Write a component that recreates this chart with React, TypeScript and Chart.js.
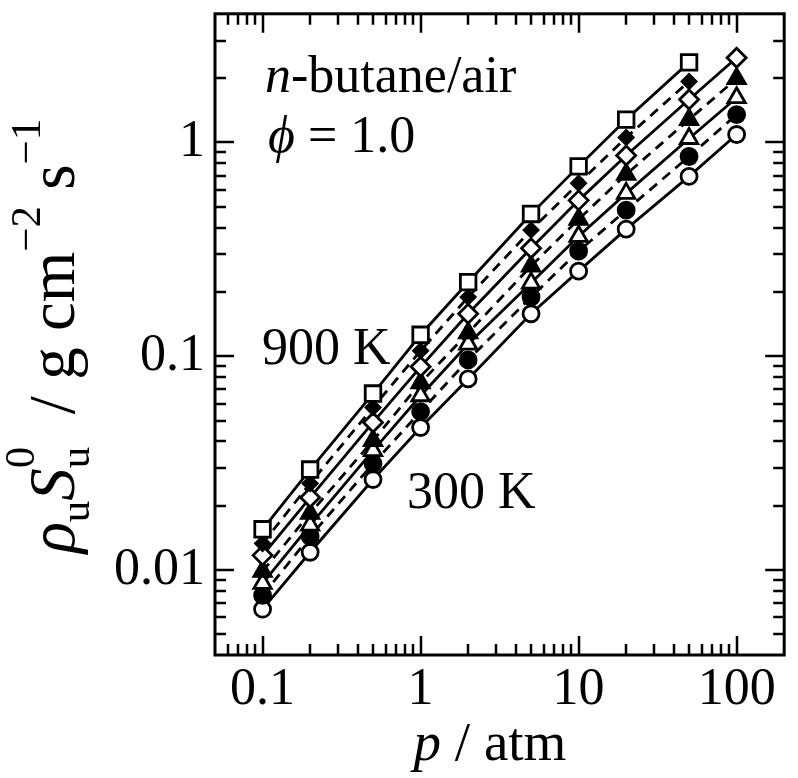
import React, { useEffect, useRef } from "react";
import { Chart, registerables } from "chart.js";

Chart.register(...registerables);

// ---- data ----
const PRESSURES = [0.1, 0.2, 0.5, 1, 2, 5, 10, 20, 50, 100];

const T900 = [0.0155, 0.0295, 0.0669, 0.126, 0.222, 0.463, 0.773, 1.28, 2.37];
const T800 = [0.0133, 0.0254, 0.0576, 0.106, 0.189, 0.389, 0.644, 1.055, 1.93];
const T700 = [0.0117, 0.0218, 0.049, 0.0892, 0.158, 0.32, 0.536, 0.87, 1.59, 2.49];
const T600 = [0.00985, 0.0184, 0.0403, 0.075, 0.1285, 0.264, 0.437, 0.709, 1.28, 1.99];
const T500 = [0.00866, 0.0162, 0.0362, 0.0653, 0.114, 0.22, 0.364, 0.578, 1.044, 1.62];
const T400 = [0.00761, 0.01435, 0.0314, 0.0551, 0.0961, 0.189, 0.31, 0.482, 0.86, 1.35];
const T300 = [0.00655, 0.0121, 0.0265, 0.0464, 0.0783, 0.158, 0.25, 0.393, 0.694, 1.09];

const X_TICKS = [0.1, 1, 10, 100];
const X_TICK_LABELS = ["0.1", "1", "10", "100"];
const Y_TICKS = [0.01, 0.1, 1];
const Y_TICK_LABELS = ["0.01", "0.1", "1"];

const X_MIN = 0.05;
const X_MAX = 200;
const Y_MIN = 0.004;
const Y_MAX = 4;

const FONT = "'Liberation Serif', 'Times New Roman', 'DejaVu Serif', serif";

type Series = {
  label: string;
  values: number[];
  style: string;
  filled: boolean;
  dashed: boolean;
  radius: number;
};

const SERIES: Series[] = [
  { label: "900 K", values: T900, style: "rect", filled: false, dashed: false, radius: 11 },
  { label: "800 K", values: T800, style: "rectRot", filled: true, dashed: true, radius: 7 },
  { label: "700 K", values: T700, style: "rectRot", filled: false, dashed: false, radius: 9.5 },
  { label: "600 K", values: T600, style: "triangle", filled: true, dashed: true, radius: 10 },
  { label: "500 K", values: T500, style: "triangle", filled: false, dashed: false, radius: 10 },
  { label: "400 K", values: T400, style: "circle", filled: true, dashed: true, radius: 8 },
  { label: "300 K", values: T300, style: "circle", filled: false, dashed: false, radius: 8 },
];

type Run = { t: string; size: number; italic?: boolean; dy?: number; stack?: Run };

function fontOf(r: Run) {
  return `${r.italic ? "italic " : ""}${r.size}px ${FONT}`;
}

function runWidth(ctx: CanvasRenderingContext2D, r: Run) {
  ctx.font = fontOf(r);
  let w = ctx.measureText(r.t).width;
  if (r.stack) {
    ctx.font = fontOf(r.stack);
    w = Math.max(w, ctx.measureText(r.stack.t).width);
  }
  return w;
}

function drawRuns(ctx: CanvasRenderingContext2D, runs: Run[], x: number, y: number, align: "left" | "center") {
  const widths = runs.map((r) => runWidth(ctx, r));
  const total = widths.reduce((a, b) => a + b, 0);
  let cx = align === "center" ? x - total / 2 : x;
  ctx.textAlign = "left";
  ctx.textBaseline = "alphabetic";
  runs.forEach((r, i) => {
    ctx.font = fontOf(r);
    ctx.fillText(r.t, cx, y + (r.dy || 0));
    if (r.stack) {
      ctx.font = fontOf(r.stack);
      ctx.fillText(r.stack.t, cx, y + (r.stack.dy || 0));
    }
    cx += widths[i];
  });
}

function logTicks(min: number, max: number) {
  const out: { v: number; major: boolean }[] = [];
  const e0 = Math.floor(Math.log10(min));
  const e1 = Math.ceil(Math.log10(max));
  for (let e = e0; e <= e1; e++) {
    for (let m = 1; m <= 9; m++) {
      const v = m * Math.pow(10, e);
      if (v > min * 1.001 && v < max / 1.001) out.push({ v, major: m === 1 });
    }
  }
  return out;
}

const framePlugin = {
  id: "framePlugin",
  afterDraw(chart: any) {
    const { ctx, chartArea: a, scales } = chart;
    const xs = scales.x;
    const ys = scales.y;
    ctx.save();
    ctx.strokeStyle = "#000";
    ctx.lineWidth = 2.5;
    ctx.setLineDash([]);
    const MAJ = 19;
    const MIN = 11;
    ctx.beginPath();
    for (const t of logTicks(X_MIN, X_MAX)) {
      const px = Math.round(xs.getPixelForValue(t.v));
      const len = t.major ? MAJ : MIN;
      ctx.moveTo(px, a.bottom);
      ctx.lineTo(px, a.bottom - len);
      ctx.moveTo(px, a.top);
      ctx.lineTo(px, a.top + len);
    }
    for (const t of logTicks(Y_MIN, Y_MAX)) {
      const py = Math.round(ys.getPixelForValue(t.v));
      const len = t.major ? MAJ : MIN;
      ctx.moveTo(a.left, py);
      ctx.lineTo(a.left + len, py);
      ctx.moveTo(a.right, py);
      ctx.lineTo(a.right - len, py);
    }
    ctx.stroke();
    ctx.lineWidth = 3;
    ctx.strokeRect(a.left, a.top, a.right - a.left, a.bottom - a.top);

    ctx.fillStyle = "#000";
    // annotations
    drawRuns(ctx, [{ t: "n", size: 52, italic: true }, { t: "-butane/air", size: 52 }], 265, 92, "left");
    drawRuns(ctx, [{ t: "\u03D5", size: 52, italic: true }, { t: " = 1.0", size: 52 }], 268, 152, "left");
    drawRuns(ctx, [{ t: "900 K", size: 52 }], 262, 364, "left");
    drawRuns(ctx, [{ t: "300 K", size: 52 }], 407, 508, "left");

    // x title
    drawRuns(ctx, [{ t: "p", size: 55, italic: true }, { t: " / atm", size: 55 }], 490, 760, "center");

    // y title (rotated)
    ctx.save();
    ctx.translate(74, 336);
    ctx.rotate(-Math.PI / 2);
    drawRuns(
      ctx,
      [
        { t: "\u03C1", size: 65, italic: true },
        { t: "u", size: 43, dy: 15 },
        { t: "S", size: 65, italic: true },
        { t: "u", size: 43, dy: 15, stack: { t: "0", size: 43, dy: -40 } },
        { t: "  / g cm", size: 65 },
        { t: "\u22122", size: 43, dy: -34 },
        { t: " s", size: 65 },
        { t: "\u22121", size: 43, dy: -34 },
      ],
      0,
      0,
      "center"
    );
    ctx.restore();
    ctx.restore();
  },
};

export default function App() {
  const ref = useRef<HTMLCanvasElement | null>(null);

  useEffect(() => {
    const canvas = ref.current;
    if (!canvas) return;
    const datasets = SERIES.map((s) => ({
      label: s.label,
      data: s.values.map((v, i) => ({ x: PRESSURES[i], y: v })),
      showLine: true,
      fill: false,
      tension: 0,
      borderColor: "#000",
      borderWidth: 2.8,
      borderDash: s.dashed ? [10, 7] : [],
      pointStyle: s.style,
      pointRadius: s.radius,
      pointHoverRadius: s.radius,
      pointBackgroundColor: s.filled ? "#000" : "#fff",
      pointBorderColor: "#000",
      pointBorderWidth: 2.8,
    }));

    const chart = new Chart(canvas, {
      type: "scatter",
      data: { datasets } as any,
      options: {
        responsive: false,
        animation: false,
        devicePixelRatio: 1,
        layout: { padding: { top: 12, right: 9, left: 0, bottom: 0 } },
        plugins: { legend: { display: false }, tooltip: { enabled: false } },
        scales: {
          x: {
            type: "logarithmic",
            position: "bottom",
            min: X_MIN,
            max: X_MAX,
            afterBuildTicks: (scale: any) => {
              scale.ticks = X_TICKS.map((v) => ({ value: v }));
            },
            afterFit: (scale: any) => {
              scale.height = 123;
              scale.paddingLeft = 0;
              scale.paddingRight = 0;
            },
            ticks: {
              autoSkip: false,
              maxRotation: 0,
              padding: 4,
              color: "#000",
              font: { family: FONT, size: 52 },
              callback: (v: any) => {
                const i = X_TICKS.indexOf(Number(v));
                return i >= 0 ? X_TICK_LABELS[i] : "";
              },
            },
            grid: { display: false, drawTicks: false },
            border: { display: false },
          },
          y: {
            type: "logarithmic",
            position: "left",
            min: Y_MIN,
            max: Y_MAX,
            afterBuildTicks: (scale: any) => {
              scale.ticks = Y_TICKS.map((v) => ({ value: v }));
            },
            afterFit: (scale: any) => {
              scale.width = 215;
              scale.paddingTop = 0;
              scale.paddingBottom = 0;
            },
            ticks: {
              autoSkip: false,
              padding: 10,
              color: "#000",
              font: { family: FONT, size: 52 },
              callback: (v: any) => {
                const i = Y_TICKS.indexOf(Number(v));
                return i >= 0 ? Y_TICK_LABELS[i] : "";
              },
            },
            grid: { display: false, drawTicks: false },
            border: { display: false },
          },
        },
      } as any,
      plugins: [framePlugin],
    });
    return () => chart.destroy();
  }, []);

  return (
    <div style={{ position: "fixed", left: 0, top: 0, width: 798, height: 778, background: "#fff" }}>
      <canvas ref={ref} width={798} height={778} style={{ display: "block" }} />
    </div>
  );
}
